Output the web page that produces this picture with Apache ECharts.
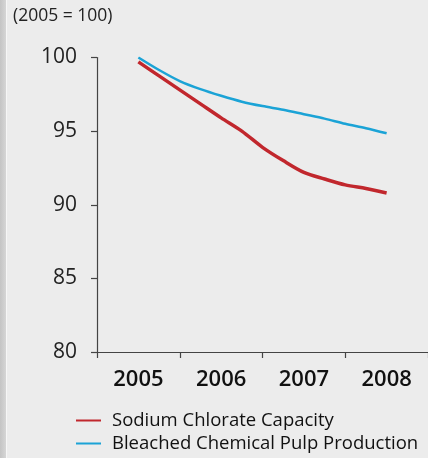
<!DOCTYPE html>
<html>
<head>
<meta charset="utf-8">
<script src="https://cdn.jsdelivr.net/npm/echarts@6/dist/echarts.min.js"></script>
<style>
html,body{margin:0;padding:0;background:#ececec;}
#c{width:428px;height:458px;}
</style>
</head>
<body>
<div id="c"></div>
<script>
// Data (index 2005 = 100)
var years = ['2005', '2006', '2007', '2008'];
// positions along the year axis (0 = 2005, quarterly steps)
var positions = [0, 0.25, 0.5, 0.75, 1, 1.25, 1.5, 1.75, 2, 2.25, 2.5, 2.75, 3];
var sodiumChlorate = [99.7, 98.75, 97.8, 96.85, 95.9, 95.0, 93.9, 93.0, 92.2, 91.75, 91.35, 91.1, 90.8];
var bleachedPulp = [100.0, 99.15, 98.4, 97.85, 97.4, 97.0, 96.7, 96.45, 96.15, 95.85, 95.5, 95.2, 94.85];
var seriesNames = ['Sodium Chlorate Capacity', 'Bleached Chemical Pulp Production'];
var yMin = 80, yMax = 100, yStep = 5;

function pairs(xs, ys) {
  return xs.map(function (x, i) { return [x, ys[i]]; });
}

var chart = echarts.init(document.getElementById('c'), null, {renderer: 'canvas'});
var font = '"Open Sans", "Noto Sans", sans-serif';
chart.setOption({
  backgroundColor: '#ececec',
  animation: false,
  textStyle: {fontFamily: font},
  graphic: [
    {type: 'rect', left: 0, top: 0, shape: {width: 6, height: 458},
     style: {fill: new echarts.graphic.LinearGradient(0, 0, 1, 0, [
       {offset: 0, color: '#c4c4c4'}, {offset: 1, color: '#d6d6d6'}])}, silent: true, z: -1},
    {type: 'rect', left: 6, top: 0, shape: {width: 1, height: 458},
     style: {fill: '#f6f6f6'}, silent: true, z: -1},
    {type: 'text', left: 13, top: 7,
     style: {text: '(2005 = 100)', font: '17.5px ' + font, fill: '#222'}}
  ],
  grid: {left: 97, right: -4, top: 57.5, bottom: 106, containLabel: false},
  legend: {
    orient: 'vertical', left: 71, top: 406,
    itemWidth: 25, itemHeight: 2, itemGap: 4,
    icon: 'rect',
    textStyle: {fontSize: 18.5, color: '#111', fontFamily: font, lineHeight: 18, padding: [0, 0, 0, 6]},
    data: seriesNames
  },
  xAxis: [
    {
      type: 'category', data: years, boundaryGap: true,
      axisLine: {onZero: false, lineStyle: {color: '#444', width: 1.2}},
      axisTick: {show: true, interval: 0, length: 6, lineStyle: {color: '#444', width: 1.2}},
      axisLabel: {fontSize: 22, fontWeight: 600, color: '#111', margin: 17, fontFamily: font},
      splitLine: {show: false}
    },
    {type: 'value', min: -0.5, max: 3.5, show: false}
  ],
  yAxis: {
    type: 'value', min: yMin, max: yMax, interval: yStep,
    axisLine: {show: true, onZero: false, lineStyle: {color: '#444', width: 1.2}},
    axisTick: {show: true, length: 6, lineStyle: {color: '#444', width: 1.2}},
    axisLabel: {fontSize: 21, color: '#222', margin: 20, fontFamily: font},
    splitLine: {show: false}
  },
  series: [
    {
      name: seriesNames[0], type: 'line', xAxisIndex: 1,
      data: pairs(positions, sodiumChlorate), smooth: 0.3,
      showSymbol: false, symbol: 'none', color: '#c1272d',
      lineStyle: {width: 3.5, color: '#c1272d'}
    },
    {
      name: seriesNames[1], type: 'line', xAxisIndex: 1,
      data: pairs(positions, bleachedPulp), smooth: 0.3,
      showSymbol: false, symbol: 'none', color: '#1ba3d6',
      lineStyle: {width: 2.5, color: '#1ba3d6'}
    }
  ]
});
</script>
</body>
</html>
